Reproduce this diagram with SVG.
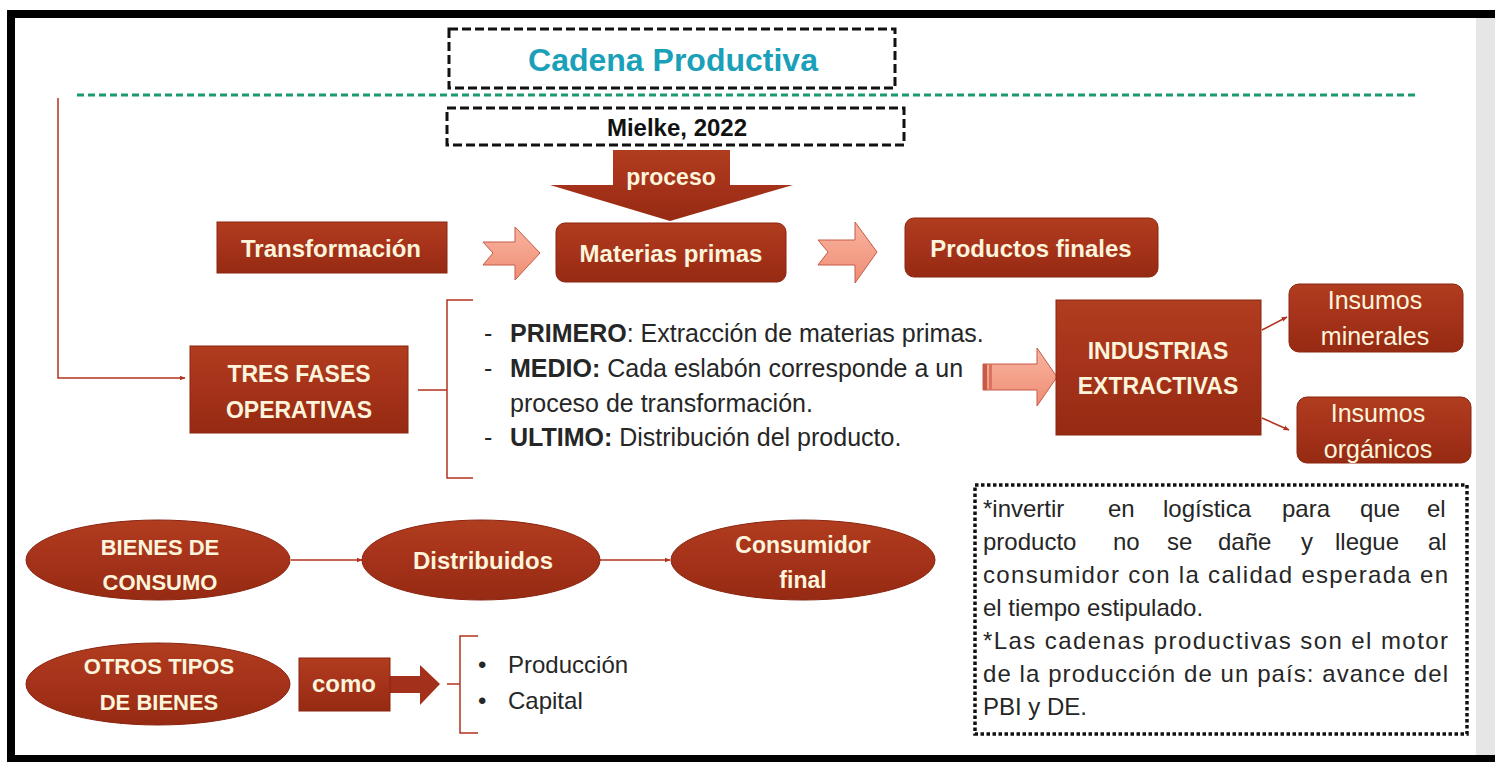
<svg xmlns="http://www.w3.org/2000/svg" width="1495" height="762" viewBox="0 0 1495 762">
<defs>
<linearGradient id="red" x1="0" y1="0" x2="0" y2="1">
<stop offset="0" stop-color="#b03d1e"/>
<stop offset="0.5" stop-color="#a5321a"/>
<stop offset="1" stop-color="#962a12"/>
</linearGradient>
<linearGradient id="pink" x1="0" y1="0" x2="0" y2="1">
<stop offset="0" stop-color="#f8b4a0"/>
<stop offset="1" stop-color="#f08d74"/>
</linearGradient>
<marker id="ah" viewBox="0 0 10 10" refX="9" refY="5" markerWidth="6" markerHeight="6" orient="auto" markerUnits="userSpaceOnUse">
<path d="M0,1 L10,5 L0,9 Z" fill="#b2331f"/>
</marker>
<style>
.box{fill:url(#red);stroke:#8a2410;stroke-width:1}
.bt{font-family:"Liberation Sans",Arial,sans-serif;font-weight:bold;fill:#fdf4dc;text-anchor:middle}
.rt{font-family:"Liberation Sans",Arial,sans-serif;fill:#fdf4dc;text-anchor:middle}
.body{font-family:"Liberation Sans",Arial,sans-serif;fill:#262626}
.b{font-weight:bold}
.con{fill:none;stroke:#b2331f;stroke-width:1.5}
.pk{fill:url(#pink);stroke:#c65a48;stroke-width:1}
.dash{fill:none;stroke:#111;stroke-width:3;stroke-dasharray:9,4}
</style>
</defs>
<rect x="0" y="0" width="1495" height="762" fill="#ffffff"/>
<rect x="1476" y="18" width="19" height="737" fill="#e6e6e6"/>
<rect x="7" y="10" width="1488" height="8" fill="#000"/>
<rect x="7" y="10" width="8" height="752" fill="#000"/>
<rect x="7" y="755" width="1488" height="7" fill="#000"/>

<g id="title">
<rect x="449" y="29" width="446" height="59" class="dash"/>
<text x="673" y="71" font-family="Liberation Sans,Arial,sans-serif" font-weight="bold" font-size="32" fill="#1aa0b8" text-anchor="middle">Cadena Productiva</text>
</g>
<line x1="77" y1="95" x2="1418" y2="95" stroke="#1a9a70" stroke-width="3" stroke-dasharray="7,4"/>
<g id="author">
<rect x="447" y="108" width="457" height="37" class="dash"/>
<text x="677" y="136" font-family="Liberation Sans,Arial,sans-serif" font-weight="bold" font-size="24" fill="#111" text-anchor="middle">Mielke, 2022</text>
</g>

<g id="connectors">
<polyline class="con" points="58,98 58,378 185,378" marker-end="url(#ah)"/>
<path class="con" d="M473,300 L447,300 L447,390 L418,390 M447,390 L447,478 L473,478"/>
<line class="con" x1="1262" y1="330" x2="1287" y2="317" marker-end="url(#ah)"/>
<line class="con" x1="1262" y1="418" x2="1289" y2="430" marker-end="url(#ah)"/>
<line class="con" x1="291" y1="560" x2="362" y2="560" marker-end="url(#ah)"/>
<line class="con" x1="600" y1="560" x2="670" y2="560" marker-end="url(#ah)"/>
<path class="con" d="M478,636 L460,636 L460,684 L447,684 M460,684 L460,733 L478,733"/>
<polygon class="pk" points="483,242 515,242 515,227 540,253 515,280 515,265 483,265 493,253"/>
<polygon class="pk" points="818,240 855,240 855,222 877,252 855,283 855,265 818,265 828,252"/>
<polygon class="pk" points="983,364 1037,364 1037,348 1057,377 1037,406 1037,390 983,390"/>
<rect x="983" y="364" width="4" height="26" fill="#c65a48"/>
<rect x="989" y="364" width="3" height="26" fill="#d9735f"/>
<polygon points="390,676 420,676 420,665 440,684 420,705 420,693 390,693" fill="#a3301a"/>
</g>

<g id="proceso">
<polygon points="613,150 730,150 730,185 793,185 670,221 550,185 613,185" fill="url(#red)"/>
<text x="671" y="185" class="bt" font-size="23">proceso</text>
</g>

<g id="transformacion">
<rect x="217" y="222" width="230" height="51" class="box"/>
<text x="331" y="257" class="bt" font-size="24">Transformación</text>
</g>

<g id="materias">
<rect x="556" y="223" width="230" height="59" rx="9" class="box"/>
<text x="671" y="262" class="bt" font-size="24">Materias primas</text>
</g>

<g id="productos">
<rect x="905" y="218" width="253" height="59" rx="9" class="box"/>
<text x="1031" y="257" class="bt" font-size="24">Productos finales</text>
</g>

<g id="tresfases">
<rect x="190" y="346" width="218" height="87" class="box"/>
<text x="299" y="382" class="bt" font-size="23">TRES FASES</text>
<text x="299" y="418" class="bt" font-size="23">OPERATIVAS</text>
</g>

<g id="fases-texto">
<text class="body" font-size="25"><tspan x="484" y="342">-</tspan><tspan x="510" y="342" class="b">PRIMERO</tspan><tspan>: Extracción de materias primas.</tspan></text>
<text class="body" font-size="25"><tspan x="484" y="377">-</tspan><tspan x="510" y="377" class="b">MEDIO:</tspan><tspan> Cada eslabón corresponde a un</tspan></text>
<text class="body" font-size="25" x="510" y="412">proceso de transformación.</text>
<text class="body" font-size="25"><tspan x="484" y="446">-</tspan><tspan x="510" y="446" class="b">ULTIMO:</tspan><tspan> Distribución del producto.</tspan></text>
</g>

<g id="industrias">
<rect x="1056" y="300" width="205" height="135" class="box"/>
<text x="1158" y="359" class="bt" font-size="23">INDUSTRIAS</text>
<text x="1158" y="394" class="bt" font-size="23">EXTRACTIVAS</text>
</g>

<g id="minerales">
<rect x="1289" y="284" width="174" height="68" rx="10" class="box"/>
<text x="1375" y="309" class="rt" font-size="25">Insumos</text>
<text x="1375" y="345" class="rt" font-size="25">minerales</text>
</g>

<g id="organicos">
<rect x="1297" y="397" width="174" height="66" rx="10" class="box"/>
<text x="1378" y="422" class="rt" font-size="25">Insumos</text>
<text x="1378" y="458" class="rt" font-size="25">orgánicos</text>
</g>

<g id="nota">
<rect x="975" y="485" width="492" height="249" fill="none" stroke="#111" stroke-width="3.5" stroke-dasharray="3.5,2.5"/>
<text class="body" font-size="24" y="517"><tspan x="983">*invertir</tspan><tspan x="1108">en</tspan><tspan x="1163">logística</tspan><tspan x="1282">para</tspan><tspan x="1360">que</tspan><tspan x="1427">el</tspan></text>
<text class="body" font-size="24" y="550"><tspan x="983">producto</tspan><tspan x="1113">no</tspan><tspan x="1167">se</tspan><tspan x="1218">dañe</tspan><tspan x="1301">y</tspan><tspan x="1335">llegue</tspan><tspan x="1428">al</tspan></text>
<text class="body" font-size="24" x="983" y="583" textLength="465" lengthAdjust="spacing">consumidor con la calidad esperada en</text>
<text class="body" font-size="24" x="983" y="616">el tiempo estipulado.</text>
<text class="body" font-size="24" x="983" y="649" textLength="465" lengthAdjust="spacing">*Las cadenas productivas son el motor</text>
<text class="body" font-size="24" x="983" y="682" textLength="465" lengthAdjust="spacing">de la producción de un país: avance del</text>
<text class="body" font-size="24" x="983" y="715">PBI y DE.</text>
</g>

<g id="bienes-consumo">
<ellipse cx="158" cy="560" rx="132" ry="40" class="box"/>
<text x="160" y="555" class="bt" font-size="22">BIENES DE</text>
<text x="160" y="590" class="bt" font-size="22">CONSUMO</text>
</g>

<g id="distribuidos">
<ellipse cx="481" cy="560" rx="119" ry="40" class="box"/>
<text x="483" y="569" class="bt" font-size="24">Distribuidos</text>
</g>

<g id="consumidor">
<ellipse cx="803" cy="560" rx="132" ry="40" class="box"/>
<text x="803" y="553" class="bt" font-size="23">Consumidor</text>
<text x="803" y="588" class="bt" font-size="23">final</text>
</g>

<g id="otros-bienes">
<ellipse cx="158" cy="684" rx="132" ry="41" class="box"/>
<text x="159" y="674" class="bt" font-size="22">OTROS TIPOS</text>
<text x="159" y="710" class="bt" font-size="22">DE BIENES</text>
</g>

<g id="como">
<rect x="299" y="658" width="91" height="53" class="box"/>
<text x="344" y="692" class="bt" font-size="24">como</text>
</g>

<g id="tipos">
<text class="body" font-size="24" x="478" y="673">•</text>
<text class="body" font-size="24" x="508" y="673">Producción</text>
<text class="body" font-size="24" x="478" y="709">•</text>
<text class="body" font-size="24" x="508" y="709">Capital</text>
</g>
</svg>
